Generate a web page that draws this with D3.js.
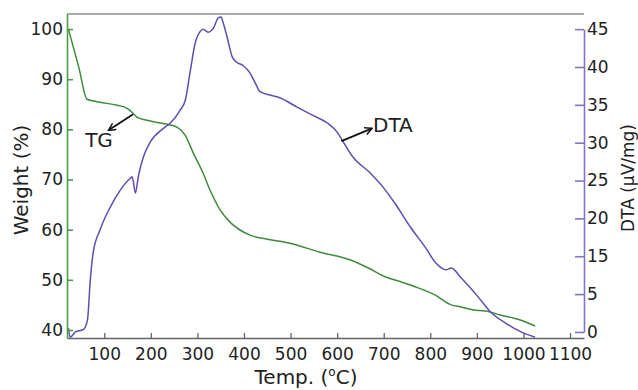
<!DOCTYPE html>
<html>
<head>
<meta charset="utf-8">
<script src="https://cdn.jsdelivr.net/npm/d3@7"></script>
<style>
  body { margin: 0; background: #fff; }
  svg text { font-family: "DejaVu Sans", sans-serif; fill: #222; }
</style>
</head>
<body>
<div id="chart_container"></div>
<script>
// TG / DTA curves

let tg_temp = [23, 45, 63, 75, 91, 128, 149, 162, 171, 192, 235, 257, 274, 291, 312, 327,
               349, 370, 413, 450, 499, 563, 630, 666, 703, 737, 774, 810, 845, 866, 892,
               918, 950, 993, 1025];
let tg_weight = [100, 92.5, 86.0, 85.7, 85.4, 84.8, 84.2, 83.2, 82.4, 81.8, 81.0, 80.4, 78.8,
                 75.3, 71.3, 67.9, 63.9, 61.5, 58.9, 58.1, 57.3, 55.5, 53.9, 52.4, 50.6, 49.6,
                 48.4, 47.0, 45.0, 44.6, 44.0, 43.8, 43.0, 42.0, 40.8];

let dta_temp = [23, 27, 38, 55, 64, 70, 76, 91, 113, 134, 156, 160, 167, 173, 184, 199, 227,
                242, 263, 274, 285, 295, 306, 312, 323, 334, 345, 351, 355, 364, 375, 385,
                398, 413, 424, 435, 456, 478, 514, 548, 579, 600, 614, 634, 671, 699, 724,
                759, 789, 812, 834, 845, 866, 903, 930, 961, 995, 1025];
let dta_value = [0.5, -0.7, 0, 0.3, 1.6, 8.7, 15.4, 18.5, 21.5, 23.7, 25.3, 25.5, 23.35, 25.5,
                 28.1, 30.1, 31.9, 32.6, 34.3, 35.6, 39.6, 43.1, 44.7, 45.0, 44.6, 45.1, 46.5,
                 46.6, 45.9, 43.9, 41.3, 40.6, 40.2, 39.2, 37.9, 36.7, 36.3, 35.9, 34.7, 33.6,
                 32.6, 31.4, 30.0, 28.1, 26.0, 24.1, 22.0, 18.7, 16.2, 13.2, 11.4, 11.9, 9.3,
                 4.6, 2.6, 1.2, 0, -0.7];

let temp_ticks = [100, 200, 300, 400, 500, 600, 700, 800, 900, 1000, 1100];
let weight_ticks = [40, 50, 60, 70, 80, 90, 100];
let dta_ticks = [0, 5, 15, 20, 25, 30, 35, 40, 45];   // as printed, "10" is absent

// annotation arrows: [temp, value] from -> to, in each curve's own units
let tg_arrow = [[162, 83.0], [109, 79.8]];
let tg_label = [59, 76.5];
let dta_arrow = [[609, 30.2], [675, 31.9]];
let dta_label = [677, 31.4];

let svg_width = 638;
let svg_height = 390;

let chart_margin = {
  "top": 14,
  "right": 54,
  "bottom": 52,
  "left": 67
};

let plot_left = chart_margin.left;
let plot_right = svg_width - chart_margin.right;
let plot_top = chart_margin.top;
let plot_bottom = svg_height - chart_margin.bottom;

let green_line = "#3f8a3c";
let green_axis = "#4f9c48";
let purple_line = "#5a50b0";
let purple_axis = "#8175c6";

let draw_chart = function hst_draw_chart(container_id)
{
  let svg = d3.select("#" + container_id)
    .append("svg")
      .attr("width", svg_width)
      .attr("height", svg_height)
      .attr("xmlns", "http://www.w3.org/2000/svg");

  let x = d3.scaleLinear()
            .domain([20, 1130])
            .range([plot_left, plot_right]);

  let y_weight = d3.scaleLinear()
                   .domain([38.4, 103])
                   .range([plot_bottom, plot_top]);

  // right axis ticks are evenly spaced even though the labels skip 10,
  // so the DTA scale is piecewise over the printed labels
  let y_index = d3.scaleLinear()
                  .domain([-0.16, 8.4])
                  .range([plot_bottom, plot_top]);
  let y_dta = d3.scaleLinear()
                .domain(dta_ticks)
                .range(dta_ticks.map(function (d, i) { return y_index(i); }));

  let defs = svg.append("defs");
  defs.append("marker")
      .attr("id", "arrow_head")
      .attr("viewBox", "0 0 10 10")
      .attr("refX", 9)
      .attr("refY", 5)
      .attr("markerWidth", 5)
      .attr("markerHeight", 5)
      .attr("markerUnits", "strokeWidth")
      .attr("orient", "auto")
    .append("path")
      .attr("d", "M1,1 L9,5 L1,9")
      .attr("fill", "none")
      .attr("stroke", "#111")
      .attr("stroke-width", 1.6);

  // top frame line
  svg.append("line")
      .attr("x1", plot_left)
      .attr("x2", plot_right)
      .attr("y1", plot_top)
      .attr("y2", plot_top)
      .attr("stroke", "#8c8c8c")
      .attr("stroke-width", 1.5);

  let tg_points = tg_temp.map(function (t, i) { return [t, tg_weight[i]]; });
  let dta_points = dta_temp.map(function (t, i) { return [t, dta_value[i]]; });

  let tg_line = d3.line()
                  .x(function (d) { return x(d[0]); })
                  .y(function (d) { return y_weight(d[1]); })
                  .curve(d3.curveMonotoneX);

  let dta_line = d3.line()
                   .x(function (d) { return x(d[0]); })
                   .y(function (d) { return y_dta(d[1]); })
                   .curve(d3.curveMonotoneX);

  svg.append("path")
      .datum(tg_points)
      .attr("d", tg_line)
      .attr("fill", "none")
      .attr("stroke", green_line)
      .attr("stroke-width", 1.5);

  svg.append("path")
      .datum(dta_points)
      .attr("d", dta_line)
      .attr("fill", "none")
      .attr("stroke", purple_line)
      .attr("stroke-width", 1.5);

  // axes
  let axis_bot = d3.axisBottom(x)
                   .tickValues(temp_ticks)
                   .tickFormat(d3.format("d"))
                   .tickSizeInner(-5)
                   .tickSizeOuter(0)
                   .tickPadding(10);

  let axis_left = d3.axisLeft(y_weight)
                    .tickValues(weight_ticks)
                    .tickFormat(d3.format("d"))
                    .tickSizeInner(-6)
                    .tickSizeOuter(0)
                    .tickPadding(4);

  let axis_right = d3.axisRight(y_dta)
                     .tickValues(dta_ticks)
                     .tickFormat(d3.format("d"))
                     .tickSizeInner(-9)
                     .tickSizeOuter(0)
                     .tickPadding(3);

  let g_bot = svg.append("g")
      .attr("transform", "translate(0," + plot_bottom + ")")
      .call(axis_bot);
  g_bot.selectAll("path, line").attr("stroke", "#666").attr("stroke-width", 1.3);

  let g_left = svg.append("g")
      .attr("transform", "translate(" + plot_left + ",0)")
      .call(axis_left);
  g_left.selectAll("path, line").attr("stroke", green_axis).attr("stroke-width", 1.6);

  let g_right = svg.append("g")
      .attr("transform", "translate(" + plot_right + ",0)")
      .call(axis_right);
  g_right.selectAll("path, line").attr("stroke", purple_axis).attr("stroke-width", 1.6);

  svg.selectAll(".tick text")
      .attr("font-family", "DejaVu Sans, sans-serif")
      .attr("font-size", 17)
      .attr("fill", "#222");

  // axis titles
  svg.append("text")
      .attr("transform", "translate(28,180) rotate(-90)")
      .attr("text-anchor", "middle")
      .attr("font-size", 20)
      .text("Weight (%)");

  let t_title = svg.append("text")
      .attr("x", 306)
      .attr("y", 384)
      .attr("text-anchor", "middle")
      .attr("font-size", 20);
  t_title.append("tspan").text("Temp. (");
  t_title.append("tspan").attr("font-size", 12).attr("dy", -8).text("o");
  t_title.append("tspan").attr("dy", 8).text("C)");

  svg.append("text")
      .attr("transform", "translate(634,178) rotate(-90)")
      .attr("text-anchor", "middle")
      .attr("font-size", 17)
      .text("DTA (\u03bcV/mg)");

  // annotations
  svg.append("line")
      .attr("x1", x(tg_arrow[0][0]))
      .attr("y1", y_weight(tg_arrow[0][1]))
      .attr("x2", x(tg_arrow[1][0]))
      .attr("y2", y_weight(tg_arrow[1][1]))
      .attr("stroke", "#111")
      .attr("stroke-width", 1.8)
      .attr("marker-end", "url(#arrow_head)");

  svg.append("text")
      .attr("x", x(tg_label[0]))
      .attr("y", y_weight(tg_label[1]))
      .attr("font-size", 20)
      .text("TG");

  svg.append("line")
      .attr("x1", x(dta_arrow[0][0]))
      .attr("y1", y_dta(dta_arrow[0][1]))
      .attr("x2", x(dta_arrow[1][0]))
      .attr("y2", y_dta(dta_arrow[1][1]))
      .attr("stroke", "#111")
      .attr("stroke-width", 1.8)
      .attr("marker-end", "url(#arrow_head)");

  svg.append("text")
      .attr("x", x(dta_label[0]))
      .attr("y", y_dta(dta_label[1]))
      .attr("font-size", 20)
      .text("DTA");

  return (null);
}

draw_chart("chart_container");
</script>
</body>
</html>
